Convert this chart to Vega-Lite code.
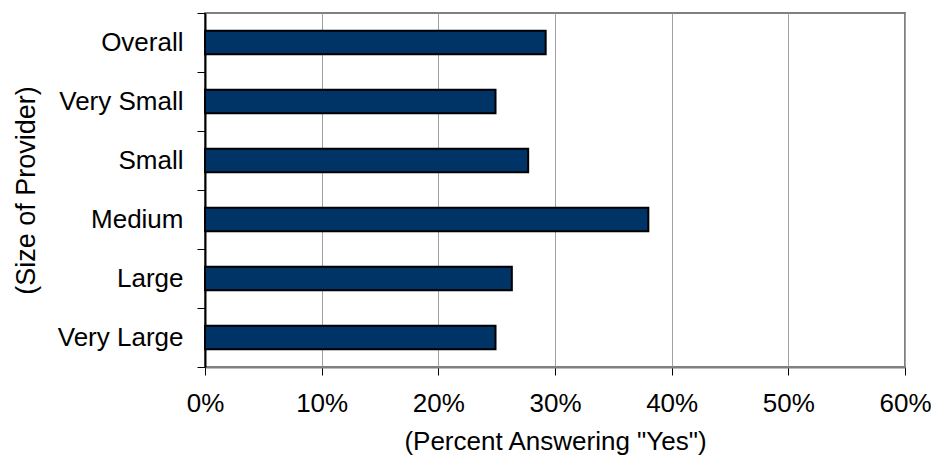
{
  "$schema": "https://vega.github.io/schema/vega-lite/v6.json",
  "width": 700,
  "height": 354,
  "autosize": {"type": "none"},
  "padding": {"left": 205, "top": 13, "right": 26, "bottom": 96},
  "background": "white",
  "config": {
    "font": "Liberation Sans",
    "view": {"stroke": "#808080", "strokeWidth": 2}
  },
  "data": {
    "values": [
      {"size": "Overall", "pct": 0.292},
      {"size": "Very Small", "pct": 0.249},
      {"size": "Small", "pct": 0.277},
      {"size": "Medium", "pct": 0.380},
      {"size": "Large", "pct": 0.263},
      {"size": "Very Large", "pct": 0.249}
    ]
  },
  "mark": {"type": "bar", "height": {"band": 0.4}, "fill": "#003366", "stroke": "#000000", "strokeWidth": 2},
  "encoding": {
    "y": {
      "field": "size",
      "type": "nominal",
      "sort": null,
      "scale": {"paddingInner": 0, "paddingOuter": 0},
      "axis": {
        "title": "(Size of Provider)",
        "bandPosition": 1,
        "tickExtra": true,
        "tickSize": 8,
        "tickColor": "#000000",
        "tickWidth": 1,
        "domainColor": "#000000",
        "domainWidth": 2,
        "labelFontSize": 26,
        "labelColor": "#000000",
        "labelPadding": 14,
        "titleFontSize": 27,
        "titleFontWeight": "normal",
        "titleColor": "#000000",
        "titlePadding": 17,
        "grid": false
      }
    },
    "x": {
      "field": "pct",
      "type": "quantitative",
      "scale": {"domain": [0, 0.6], "nice": false},
      "axis": {
        "title": "(Percent Answering \"Yes\")",
        "format": ".0%",
        "values": [0, 0.1, 0.2, 0.3, 0.4, 0.5, 0.6],
        "labelFlush": false,
        "labelOverlap": false,
        "tickSize": 8,
        "tickColor": "#000000",
        "tickWidth": 1,
        "domainColor": "#808080",
        "domainWidth": 2,
        "gridColor": "#a0a0a0",
        "gridWidth": 1,
        "labelFontSize": 26,
        "labelColor": "#000000",
        "labelPadding": 15,
        "titleFontSize": 26,
        "titleFontWeight": "normal",
        "titleColor": "#000000",
        "titlePadding": 12
      }
    }
  }
}
